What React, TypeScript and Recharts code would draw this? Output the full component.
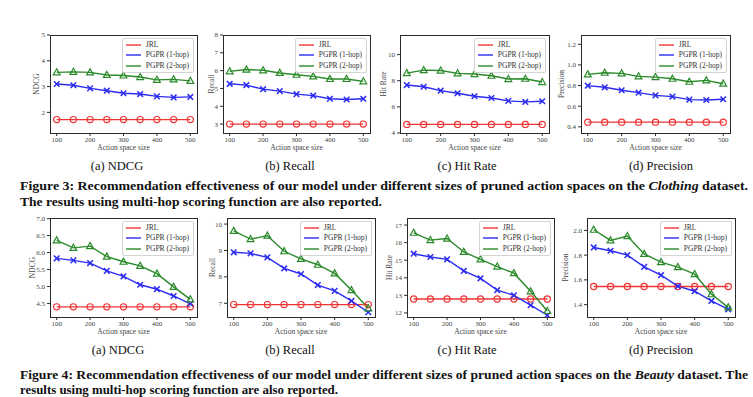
import { Legend, Line, LineChart, XAxis, YAxis } from "recharts";

const actionSizes = [100, 150, 200, 250, 300, 350, 400, 450, 500];
const xTicks = [100, 200, 300, 400, 500];

// Clothing dataset (Figure 3)
const clothingNdcgJrl = [1.72, 1.72, 1.72, 1.72, 1.72, 1.72, 1.72, 1.72, 1.72];
const clothingNdcgOneHop = [3.1, 3.05, 2.93, 2.84, 2.74, 2.71, 2.62, 2.58, 2.6];
const clothingNdcgTwoHop = [3.55, 3.57, 3.55, 3.45, 3.43, 3.37, 3.26, 3.28, 3.22];

const clothingRecallJrl = [3.0, 3.0, 3.0, 3.0, 3.0, 3.0, 3.0, 3.0, 3.0];
const clothingRecallOneHop = [5.26, 5.19, 4.96, 4.85, 4.68, 4.6, 4.42, 4.38, 4.42];
const clothingRecallTwoHop = [5.96, 6.06, 6.02, 5.87, 5.77, 5.68, 5.53, 5.53, 5.4];

const clothingHitJrl = [4.66, 4.66, 4.66, 4.66, 4.66, 4.66, 4.66, 4.66, 4.66];
const clothingHitOneHop = [7.67, 7.54, 7.24, 7.04, 6.81, 6.68, 6.46, 6.38, 6.43];
const clothingHitTwoHop = [8.58, 8.81, 8.78, 8.56, 8.51, 8.38, 8.13, 8.15, 7.9];

const clothingPrecJrl = [0.445, 0.445, 0.445, 0.445, 0.445, 0.445, 0.445, 0.445, 0.445];
const clothingPrecOneHop = [0.799, 0.783, 0.754, 0.731, 0.705, 0.693, 0.664, 0.66, 0.667];
const clothingPrecTwoHop = [0.908, 0.924, 0.918, 0.889, 0.882, 0.866, 0.837, 0.85, 0.818];

// Beauty dataset (Figure 4)
const beautyNdcgJrl = [4.4, 4.4, 4.4, 4.4, 4.4, 4.4, 4.4, 4.4, 4.4];
const beautyNdcgOneHop = [5.83, 5.77, 5.69, 5.46, 5.3, 5.05, 4.92, 4.72, 4.49];
const beautyNdcgTwoHop = [6.36, 6.14, 6.19, 5.88, 5.73, 5.61, 5.38, 4.99, 4.62];

const beautyRecallJrl = [6.95, 6.95, 6.95, 6.95, 6.95, 6.95, 6.95, 6.95, 6.95];
const beautyRecallOneHop = [8.93, 8.89, 8.74, 8.32, 8.11, 7.69, 7.47, 7.09, 6.66];
const beautyRecallTwoHop = [9.74, 9.43, 9.56, 8.97, 8.68, 8.46, 8.13, 7.5, 6.81];

const beautyHitJrl = [12.79, 12.79, 12.79, 12.79, 12.79, 12.79, 12.79, 12.79, 12.79];
const beautyHitOneHop = [15.37, 15.18, 15.05, 14.39, 13.97, 13.3, 13.0, 12.44, 11.87];
const beautyHitTwoHop = [16.56, 16.14, 16.23, 15.47, 15.05, 14.64, 14.26, 13.23, 12.11];

const beautyPrecJrl = [1.546, 1.546, 1.546, 1.546, 1.546, 1.546, 1.546, 1.546, 1.546];
const beautyPrecOneHop = [1.862, 1.835, 1.8, 1.705, 1.638, 1.549, 1.508, 1.43, 1.362];
const beautyPrecTwoHop = [2.005, 1.919, 1.954, 1.81, 1.743, 1.703, 1.646, 1.484, 1.378];

const RED = "#ee3535";
const BLUE = "#2b2bf2";
const GREEN = "#2a8a2a";
const AXIS = "#2a2a2a";
const SERIF = "'Liberation Serif', 'DejaVu Serif', serif";

function rows(jrl: number[], p1: number[], p2: number[]) {
  return actionSizes.map((x, i) => ({ x, jrl: jrl[i], p1: p1[i], p2: p2[i] }));
}

const CircleDot = (p: any) => (
  <circle key={`c${p.index}`} cx={p.cx} cy={p.cy} r={3.1} fill="none" stroke={RED} strokeWidth={1.2} />
);

const CrossDot = (p: any) => (
  <g key={`x${p.index}`} stroke={BLUE} strokeWidth={1.5}>
    <line x1={p.cx - 2.8} y1={p.cy - 2.8} x2={p.cx + 2.8} y2={p.cy + 2.8} />
    <line x1={p.cx - 2.8} y1={p.cy + 2.8} x2={p.cx + 2.8} y2={p.cy - 2.8} />
  </g>
);

const TriDot = (p: any) => (
  <polygon
    key={`t${p.index}`}
    points={`${p.cx},${p.cy - 3.6} ${p.cx - 3.4},${p.cy + 2.5} ${p.cx + 3.4},${p.cy + 2.5}`}
    fill="none"
    stroke={GREEN}
    strokeWidth={1.2}
  />
);

const LegendBox = ({ payload }: any) => (
  <div
    style={{
      border: "1px solid #d4d4d4",
      borderRadius: 2,
      background: "rgba(255,255,255,0.85)",
      padding: "1px 4px 1px 3px",
      fontFamily: SERIF,
      fontSize: 7.5,
      lineHeight: "10.3px",
      color: "#333",
      whiteSpace: "nowrap",
    }}
  >
    {(payload || []).map((item: any) => (
      <div key={item.value} style={{ display: "flex", alignItems: "center" }}>
        <svg width={15} height={4} style={{ marginRight: 5 }}>
          <line x1={0} y1={2} x2={15} y2={2} stroke={item.color} strokeWidth={1.4} />
        </svg>
        <span>{item.value}</span>
      </div>
    ))}
  </div>
);

interface PanelProps {
  box: [number, number, number, number];
  data: { x: number; jrl: number; p1: number; p2: number }[];
  domain: [number, number];
  yTicks: number[];
  digits: number;
}

const edge = (left: number, top: number, width: number, height: number) => (
  <div style={{ position: "absolute", left, top, width, height, background: AXIS }} />
);

function Panel({ box, data, domain, yTicks, digits }: PanelProps) {
  const [x0, y0, x1, y1] = box;
  const w = x1 - x0;
  const h = y1 - y0;
  return (
    <div style={{ position: "absolute", left: x0 - 40, top: y0 - 5, width: w + 45, height: h + 30 }}>
      <LineChart width={w + 45} height={h + 30} data={data} margin={{ top: 5, right: 5, left: 0, bottom: 0 }}>
        <XAxis
          dataKey="x"
          type="number"
          domain={[80, 520]}
          ticks={xTicks}
          allowDataOverflow
          height={25}
          tickSize={3}
          tickMargin={1}
          axisLine={false}
          tickLine={{ stroke: AXIS, strokeWidth: 1 }}
          tick={{ fill: "#444", fontSize: 7, fontFamily: SERIF }}
        />
        <YAxis
          type="number"
          domain={domain}
          ticks={yTicks}
          allowDataOverflow
          width={40}
          tickSize={3}
          tickMargin={2}
          axisLine={false}
          tickLine={{ stroke: AXIS, strokeWidth: 1 }}
          tick={{ fill: "#444", fontSize: 7, fontFamily: SERIF }}
          tickFormatter={(v: number) => v.toFixed(digits)}
        />
        <Legend
          layout="horizontal"
          verticalAlign="middle"
          align="center"
          content={LegendBox}
          wrapperStyle={{ position: "absolute", top: 8, right: 8, left: "auto", width: "auto", height: "auto" }}
        />
        <Line dataKey="jrl" name="JRL" stroke={RED} strokeWidth={1.4} dot={CircleDot} isAnimationActive={false} />
        <Line dataKey="p1" name="PGPR (1-hop)" stroke={BLUE} strokeWidth={1.4} dot={CrossDot} isAnimationActive={false} />
        <Line dataKey="p2" name="PGPR (2-hop)" stroke={GREEN} strokeWidth={1.4} dot={TriDot} isAnimationActive={false} />
      </LineChart>
      {edge(39.5, 4.5, w + 1.5, 1.5)}
      {edge(39.5, 4.5 + h, w + 1.5, 1.5)}
      {edge(39.5, 4.5, 1.5, h + 1.5)}
      {edge(39.5 + w, 4.5, 1.5, h + 1.5)}
    </div>
  );
}

const top: [number, number] = [35, 133];
const bot: [number, number] = [218, 317];

const panels: (PanelProps & { ylabel: string; ylx: number; sub: string; subx: number })[] = [
  { box: [50, top[0], 197, top[1]], data: rows(clothingNdcgJrl, clothingNdcgOneHop, clothingNdcgTwoHop), domain: [1.2, 5], yTicks: [2, 3, 4, 5], digits: 0, ylabel: "NDCG", ylx: 36, sub: "(a) NDCG", subx: 117 },
  { box: [223, top[0], 370, top[1]], data: rows(clothingRecallJrl, clothingRecallOneHop, clothingRecallTwoHop), domain: [2.5, 8], yTicks: [3, 4, 5, 6, 7, 8], digits: 0, ylabel: "Recall", ylx: 211, sub: "(b) Recall", subx: 290 },
  { box: [400, top[0], 549, top[1]], data: rows(clothingHitJrl, clothingHitOneHop, clothingHitTwoHop), domain: [4, 11.5], yTicks: [4, 6, 8, 10], digits: 0, ylabel: "Hit Rate", ylx: 383, sub: "(c) Hit Rate", subx: 467 },
  { box: [581, top[0], 730, top[1]], data: rows(clothingPrecJrl, clothingPrecOneHop, clothingPrecTwoHop), domain: [0.34, 1.29], yTicks: [0.4, 0.6, 0.8, 1.0, 1.2], digits: 1, ylabel: "Precision", ylx: 561, sub: "(d) Precision", subx: 661 },
  { box: [50, bot[0], 197, bot[1]], data: rows(beautyNdcgJrl, beautyNdcgOneHop, beautyNdcgTwoHop), domain: [4.1, 7.02], yTicks: [4.5, 5, 5.5, 6, 6.5, 7], digits: 1, ylabel: "NDCG", ylx: 32, sub: "(a) NDCG", subx: 118 },
  { box: [227, bot[0], 375, bot[1]], data: rows(beautyRecallJrl, beautyRecallOneHop, beautyRecallTwoHop), domain: [6.48, 10.23], yTicks: [7, 8, 9, 10], digits: 0, ylabel: "Recall", ylx: 212, sub: "(b) Recall", subx: 290 },
  { box: [407, bot[0], 554, bot[1]], data: rows(beautyHitJrl, beautyHitOneHop, beautyHitTwoHop), domain: [11.77, 17.4], yTicks: [12, 13, 14, 15, 16, 17], digits: 0, ylabel: "Hit Rate", ylx: 389, sub: "(c) Hit Rate", subx: 467 },
  { box: [587, bot[0], 735, bot[1]], data: rows(beautyPrecJrl, beautyPrecOneHop, beautyPrecTwoHop), domain: [1.3, 2.1], yTicks: [1.4, 1.6, 1.8, 2.0], digits: 1, ylabel: "Precision", ylx: 565, sub: "(d) Precision", subx: 661 },
];

export default function App() {
  return (
    <div style={{ position: "absolute", left: 0, top: 0, width: 753, height: 397, background: "#fff", overflow: "hidden" }}>
      {panels.map((p, i) => (
        <Panel key={i} box={p.box} data={p.data} domain={p.domain} yTicks={p.yTicks} digits={p.digits} />
      ))}
      <svg width={753} height={397} style={{ position: "absolute", left: 0, top: 0, pointerEvents: "none" }}>
        {panels.map((p, i) => {
          const [x0, , x1, y1] = p.box;
          const cy = (p.box[1] + y1) / 2;
          return (
            <g key={i} fontFamily={SERIF}>
              <text x={p.ylx} y={cy} fill="#444" fontSize={7.5} textAnchor="middle" dominantBaseline="central" transform={`rotate(-90 ${p.ylx} ${cy})`}>
                {p.ylabel}
              </text>
              <text x={(x0 + x1) / 2} y={y1 + 14} fill="#444" fontSize={7.5} textAnchor="middle" dominantBaseline="central">
                Action space size
              </text>
              <text x={p.subx} y={y1 + 37} fontSize={12.5} textAnchor="middle" fill="#111">
                {p.sub}
              </text>
            </g>
          );
        })}
        <g fontFamily={SERIF} fontWeight={700} fontSize={13} fill="#111">
          <text x={20} y={190} textLength={728} lengthAdjust="spacingAndGlyphs">
            Figure 3: Recommendation effectiveness of our model under different sizes of pruned action spaces on the{" "}
            <tspan fontStyle="italic">Clothing</tspan> dataset.
          </text>
          <text x={20} y={206} textLength={362} lengthAdjust="spacingAndGlyphs">
            The results using multi-hop scoring function are also reported.
          </text>
          <text x={20} y={379} textLength={728} lengthAdjust="spacingAndGlyphs">
            Figure 4: Recommendation effectiveness of our model under different sizes of pruned action spaces on the{" "}
            <tspan fontStyle="italic">Beauty</tspan> dataset. The
          </text>
          <text x={20} y={394} textLength={318} lengthAdjust="spacingAndGlyphs">
            results using multi-hop scoring function are also reported.
          </text>
        </g>
      </svg>
    </div>
  );
}
